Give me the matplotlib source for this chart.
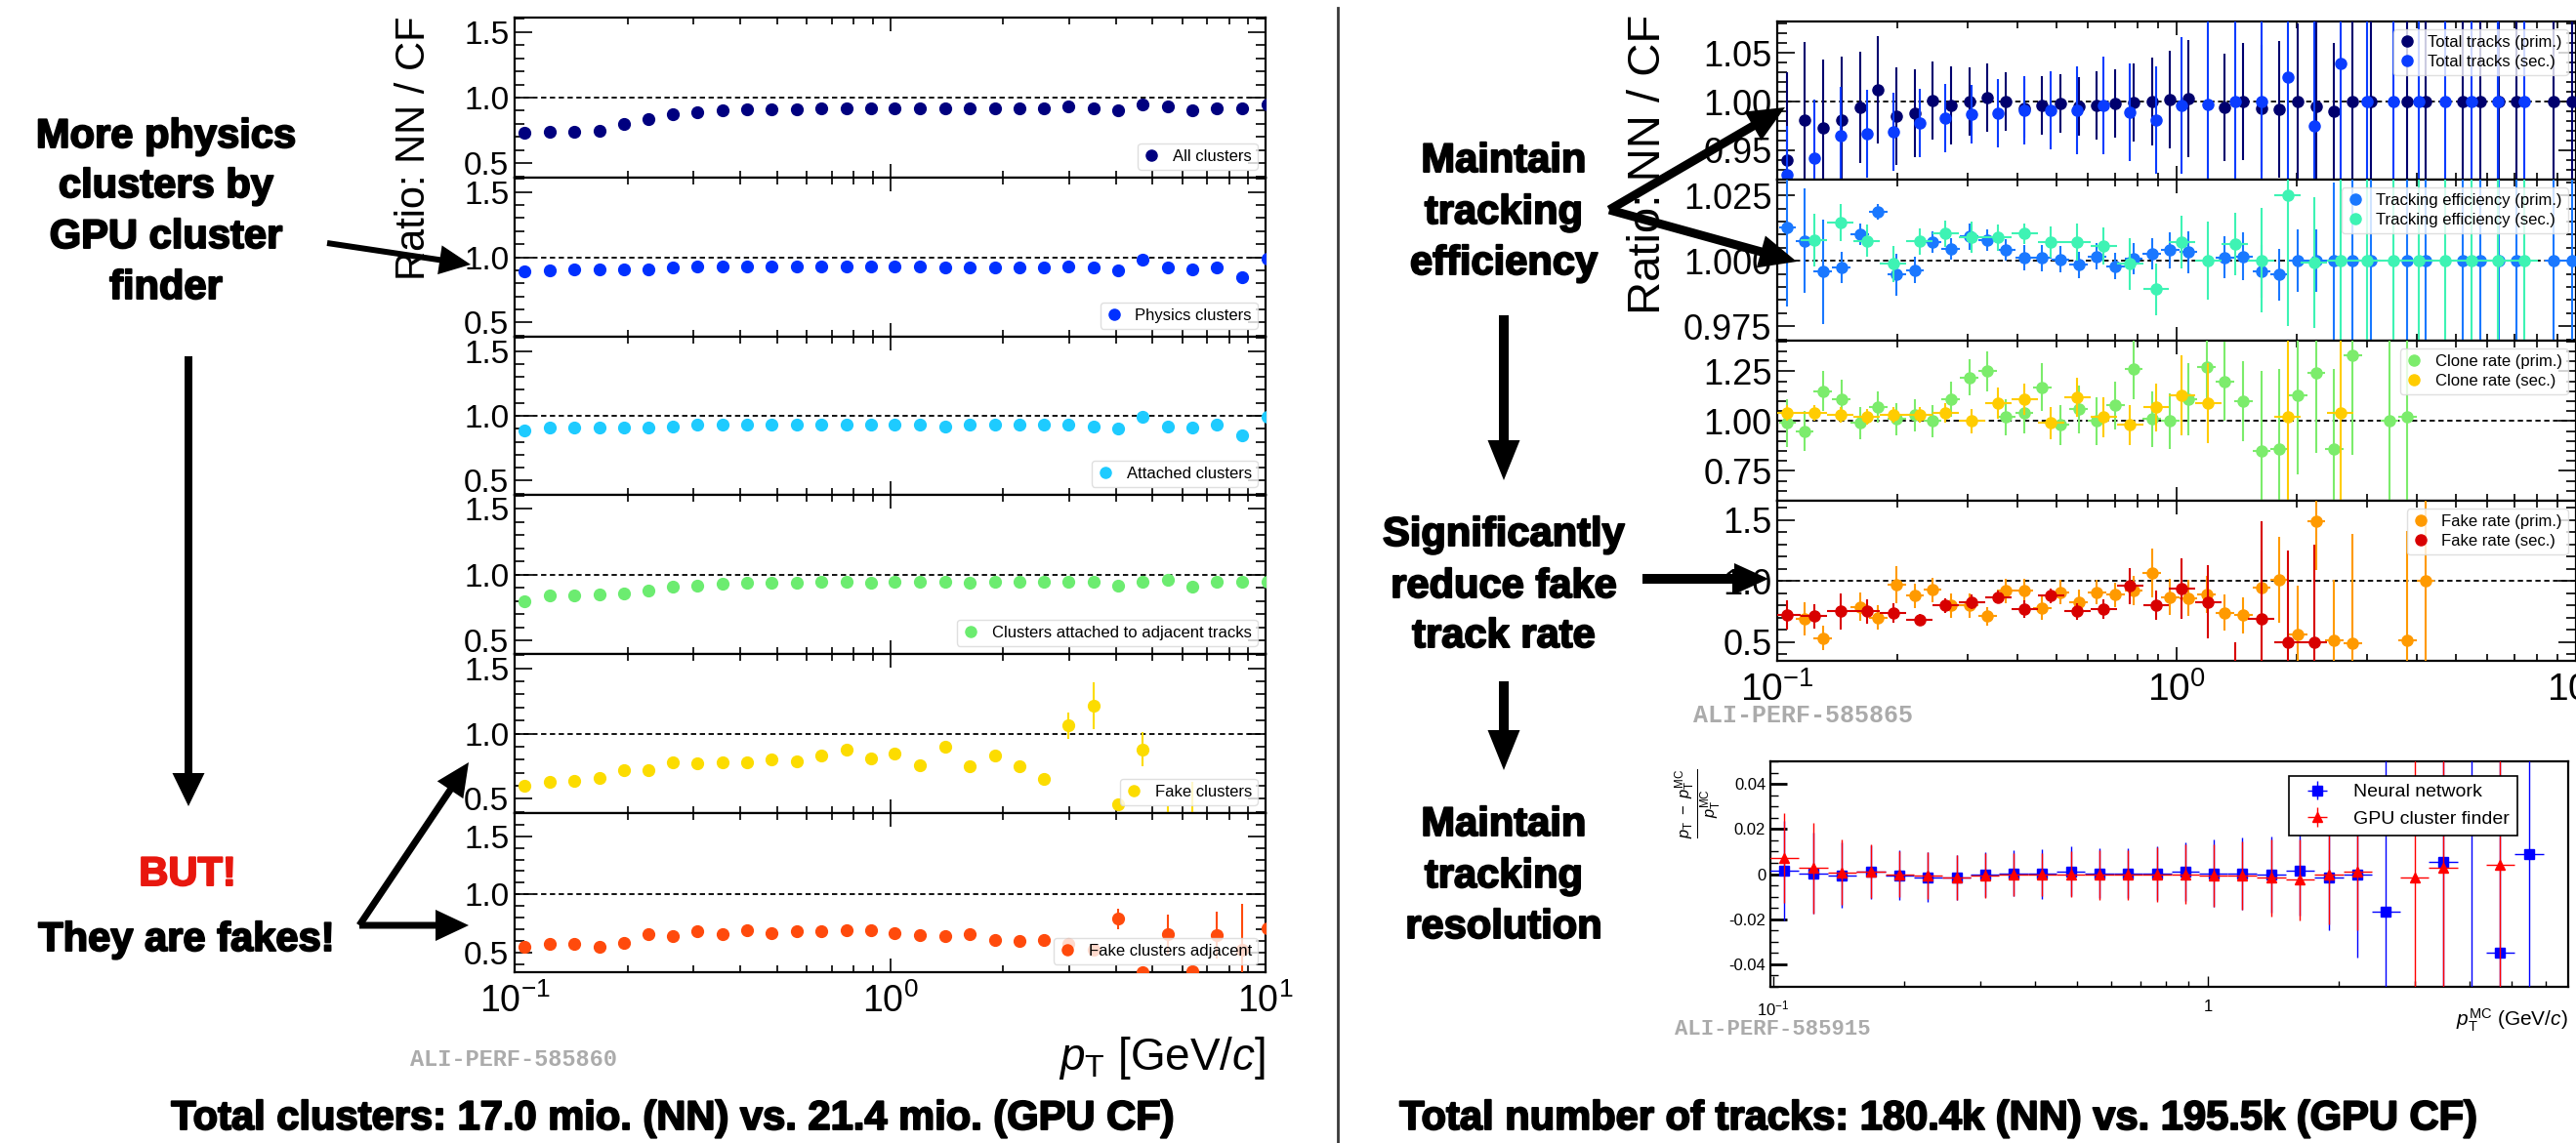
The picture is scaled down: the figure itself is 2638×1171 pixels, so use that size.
import numpy as np
import matplotlib
matplotlib.use('Agg')
import matplotlib.pyplot as plt
from matplotlib import font_manager
from matplotlib import patheffects
from matplotlib.lines import Line2D
from matplotlib.ticker import (MultipleLocator, FormatStrFormatter, NullFormatter,
                               FixedLocator, FixedFormatter)

nan = np.nan

# ------------------------------------------------------------
# Fonts: narrow sans for the ROOT plots, bold sans for the notes
# ------------------------------------------------------------
_names = {f.name for f in font_manager.fontManager.ttflist}
NARROW = 'Liberation Sans Narrow' if 'Liberation Sans Narrow' in _names else 'Liberation Sans'
plt.rcParams['font.family'] = [NARROW, 'DejaVu Sans']
plt.rcParams['mathtext.fontset'] = 'custom'
plt.rcParams['mathtext.rm'] = NARROW
plt.rcParams['mathtext.it'] = NARROW + ':italic'
plt.rcParams['mathtext.bf'] = NARROW + ':bold'
BOLD = ['Liberation Sans', 'DejaVu Sans']
HEAVY = [patheffects.withStroke(linewidth=1.4, foreground='k')]

# ------------------------------------------------------------
# Data
# ------------------------------------------------------------
# bin centres, 15 per decade (cluster ratios, secondary tracks, resolution)
pt_coarse = [0.106, 0.124, 0.144, 0.168, 0.195, 0.227, 0.264, 0.307, 0.357, 0.416,
             0.484, 0.564, 0.656, 0.764, 0.889, 1.03, 1.20, 1.40, 1.63, 1.90,
             2.21, 2.57, 2.99, 3.48, 4.05, 4.71, 5.49, 6.39, 7.43, 8.65, 10.1]
# bin centres, finer binning (primary tracks)
pt_fine = [0.106, 0.117, 0.130, 0.145, 0.161, 0.179, 0.199, 0.221, 0.245, 0.272,
           0.303, 0.336, 0.374, 0.415, 0.461, 0.512, 0.569, 0.632, 0.703, 0.780,
           0.867, 0.963, 1.07, 1.19, 1.32, 1.47, 1.63, 1.81, 2.01, 2.24,
           2.48, 2.76, 3.07, 3.41, 3.78, 4.20, 4.67, 5.19, 5.76, 6.40,
           7.11, 7.90, 8.78, 9.75]

# --- cluster ratios NN / CF (left) ---
all_clusters = [0.73, 0.74, 0.74, 0.75, 0.80, 0.84, 0.87, 0.89, 0.90, 0.91, 0.91, 0.91,
                0.92, 0.92, 0.92, 0.92, 0.92, 0.92, 0.92, 0.92, 0.92, 0.92, 0.93, 0.92,
                0.90, 0.95, 0.93, 0.90, 0.92, 0.92, 0.95]
all_err = [0.005] * 27 + [0.01, 0.02, 0.03, 0.02]
physics = [0.89, 0.90, 0.91, 0.91, 0.91, 0.91, 0.92, 0.93, 0.93, 0.93, 0.93, 0.93,
           0.93, 0.93, 0.93, 0.93, 0.93, 0.92, 0.92, 0.92, 0.92, 0.92, 0.93, 0.92,
           0.90, 0.98, 0.92, 0.91, 0.92, 0.85, 0.99]
physics_err = [0.005] * 27 + [0.01, 0.02, 0.04, 0.02]
attached = [0.89, 0.91, 0.91, 0.91, 0.91, 0.91, 0.92, 0.93, 0.93, 0.93, 0.93, 0.93,
            0.93, 0.93, 0.93, 0.93, 0.93, 0.92, 0.93, 0.93, 0.93, 0.93, 0.93, 0.92,
            0.90, 0.99, 0.92, 0.91, 0.93, 0.85, 0.99]
attached_err = [0.005] * 27 + [0.01, 0.02, 0.04, 0.02]
adjacent = [0.80, 0.84, 0.84, 0.85, 0.86, 0.88, 0.91, 0.92, 0.93, 0.94, 0.94, 0.94,
            0.95, 0.95, 0.94, 0.95, 0.95, 0.95, 0.94, 0.95, 0.95, 0.95, 0.95, 0.95,
            0.92, 0.95, 0.96, 0.91, 0.95, 0.95, 0.95]
adjacent_err = [0.005] * 27 + [0.01, 0.02, 0.03, 0.02]
fake = [0.60, 0.63, 0.64, 0.66, 0.72, 0.72, 0.78, 0.77, 0.78, 0.78, 0.80, 0.79,
        0.83, 0.88, 0.81, 0.85, 0.76, 0.90, 0.75, 0.83, 0.75, 0.65, 1.06, 1.21,
        0.46, 0.88, 0.30, 0.25, nan, nan, nan]
fake_err = [0.01] * 20 + [0.02, 0.03, 0.10, 0.18, 0.03, 0.13, 0.14, 0.38, nan, nan, nan]
fake_adj = [0.55, 0.57, 0.57, 0.55, 0.58, 0.66, 0.64, 0.68, 0.66, 0.69, 0.67, 0.68,
            0.68, 0.69, 0.69, 0.67, 0.65, 0.64, 0.66, 0.61, 0.60, 0.61, 0.57, 0.52,
            0.79, 0.33, 0.66, 0.34, 0.65, 0.52, 0.71]
fake_adj_err = [0.01] * 22 + [0.02, 0.04, 0.09, 0.05, 0.17, 0.05, 0.20, 0.40, 0.10]

# --- track ratios NN / CF (right) ---
tot_prim = [0.940, 0.981, 0.973, 0.981, 0.994, 1.012, 0.985, 0.988, 1.001, 0.996, 1.000,
            1.004, 1.000, 0.993, 0.996, 0.998, 0.995, 0.996, 0.998, 0.999, 1.000, 1.002,
            1.003, nan, 0.994, 1.000, 0.993, 0.992, 1.000, 0.995, 0.990, 1.000, 1.000,
            nan, 1.000, 1.000, nan, 1.000, 1.000, 1.000, 1.000, nan, 1.000, 1.000]
tot_prim_err = [0.09, 0.08, 0.07, 0.065, 0.057, 0.055, 0.05, 0.045, 0.04, 0.04, 0.035,
                0.035, 0.03, 0.03, 0.03, 0.03, 0.03, 0.035, 0.035, 0.04, 0.045, 0.05,
                0.06, nan, 0.055, 0.06, 0.065, 0.07, 0.08, 0.2, 0.07, 0.2, 0.2,
                nan, 0.2, 0.2, nan, 0.2, 0.2, 0.2, 0.2, nan, 0.2, 0.2]
tot_sec = [0.925, 0.942, 0.965, 0.967, 0.969, 0.978, 0.983, 0.987, 0.988, 0.991, 0.991,
           0.991, 0.996, 0.989, 0.981, 0.996, 0.997, 1.000, 1.000, 1.025, 0.975, 1.039,
           1.000, 1.000, 1.000, 1.000, 1.000, 1.000, 1.000, nan, nan]
tot_sec_err = [0.05, 0.06, 0.05, 0.045, 0.04, 0.035, 0.035, 0.03, 0.035, 0.035, 0.04,
               0.045, 0.05, 0.05, 0.055, 0.07] + [0.2] * 13 + [nan, nan]

eff_prim = [1.0126, 1.0077, 0.9959, 0.9975, 1.0101, 1.0186, 0.9947, 0.9965, 1.0071, 1.0046,
            1.0092, 1.0079, 1.0042, 1.0012, 1.0011, 1.0005, 0.9984, 1.0017, 0.9980, 1.0009,
            1.0027, 1.0040, 1.0033, nan, 1.0012, 1.0017, 0.9960, 0.9947, 1.0, 1.0, 1.0,
            1.0, 1.0, nan, 1.0, 1.0, nan, 1.0, 1.0, 1.0, 1.0, nan, 1.0, 1.0]
eff_prim_err = [0.03, 0.02, 0.02, 0.006, 0.004, 0.003, 0.008, 0.005, 0.004, 0.004, 0.005,
                0.004, 0.004, 0.005, 0.005, 0.005, 0.005, 0.005, 0.005, 0.006, 0.006, 0.007,
                0.008, nan, 0.008, 0.009, 0.01, 0.01, 0.012, 0.012, 0.03, 0.05, 0.05,
                nan, 0.05, 0.05, nan, 0.05, 0.05, 0.05, 0.05, nan, 0.05, 0.05]
eff_sec = [nan, 1.0079, 1.0145, 1.0077, 0.9988, 1.0074, 1.0104, 1.0089, 1.0089, 1.0104,
           1.0071, 1.0071, 1.0056, 0.9988, 0.9891, 1.0071, 1.0000, 1.0064, 1.0002, 1.0250,
           0.9993, 1.0, 1.0, 1.0, 1.0, 1.0, 1.0, 1.0, 1.0, nan, nan]
eff_sec_err = [nan, 0.01, 0.007, 0.006, 0.007, 0.005, 0.005, 0.006, 0.005, 0.004, 0.006,
               0.007, 0.007, 0.01, 0.01, 0.01, 0.015, 0.012, 0.02, 0.05, 0.025,
               0.05, 0.05, 0.05, 0.05, 0.05, 0.05, 0.05, 0.05, nan, nan]

clone_prim = [0.99, 0.95, 1.15, 1.11, 0.99, 1.07, 1.01, 1.03, 1.00, 1.11, 1.22, 1.25,
              1.02, 1.04, 1.17, 0.98, 1.06, 1.00, 1.08, 1.26, 1.01, 1.00, 1.11, 1.27,
              1.20, 1.10, 0.85, 0.86, 1.13, 1.24, 0.86, 1.33, nan, 1.00, 1.02,
              nan, nan, nan, nan, nan, nan, nan, nan, nan]
clone_prim_err = [0.12, 0.10, 0.10, 0.10, 0.08, 0.08, 0.08, 0.08, 0.08, 0.09, 0.09, 0.10,
                  0.09, 0.10, 0.12, 0.10, 0.12, 0.12, 0.12, 0.15, 0.14, 0.14, 0.18, 0.20,
                  0.20, 0.20, 0.40, 0.40, 0.40, 0.40, 0.40, 0.50, nan, 0.60, 0.60,
                  nan, nan, nan, nan, nan, nan, nan, nan, nan]
clone_sec = [1.04, 1.04, 1.03, 1.02, 1.03, 1.03, 1.04, 1.00, 1.09, 1.11, 0.99, 1.12,
             1.02, 0.98, 1.07, 1.13, 1.09, nan, nan, 1.02, nan, 1.04,
             nan, nan, nan, nan, nan, nan, nan, nan, nan]
clone_sec_err = [0.04, 0.04, 0.04, 0.04, 0.04, 0.04, 0.05, 0.06, 0.08, 0.08, 0.08, 0.10,
                 0.10, 0.10, 0.12, 0.20, 0.20, nan, nan, 0.50, nan, 0.50,
                 nan, nan, nan, nan, nan, nan, nan, nan, nan]

fake_prim = [nan, 0.69, 0.53, nan, 0.79, 0.70, 0.97, 0.88, 0.93, 0.80, 0.80, 0.71,
             0.92, 0.92, 0.78, 0.91, 0.83, 0.91, 0.89, 0.92, 1.07, 0.87, 0.86, 0.89,
             0.74, 0.72, 0.95, 1.01, 0.56, 1.49, 0.51, 0.49, nan, nan, 0.51, 1.00,
             nan, nan, nan, nan, nan, nan, nan, nan]
fake_prim_err = [nan, 0.14, 0.10, nan, 0.12, 0.10, 0.15, 0.10, 0.10, 0.10, 0.10, 0.08,
                 0.10, 0.10, 0.10, 0.10, 0.10, 0.10, 0.10, 0.12, 0.20, 0.15, 0.15, 0.15,
                 0.15, 0.15, 0.30, 0.35, 0.40, 0.40, 0.50, 0.90, nan, nan, 0.90, 0.80,
                 nan, nan, nan, nan, nan, nan, nan, nan]
fake_sec = [0.72, 0.71, 0.75, 0.75, 0.74, 0.68, 0.80, 0.83, 0.87, 0.77, 0.88, 0.75,
            0.77, 0.96, 0.80, 0.94, 0.83, 0.20, 0.69, 0.50, 0.50,
            nan, nan, nan, nan, nan, nan, nan, nan, nan, nan]
fake_sec_err = [0.12, 0.10, 0.15, 0.10, 0.08, 0.05, 0.06, 0.06, 0.05, 0.07, 0.06, 0.07,
                0.08, 0.15, 0.12, 0.25, 0.30, 0.30, 0.80, 0.75, 0.80,
                nan, nan, nan, nan, nan, nan, nan, nan, nan, nan]

# --- relative pT resolution (bottom right), first 27 coarse bins ---
res_nn = [0.0016, 0.0004, -0.0006, 0.0009, -0.0006, -0.0014, -0.0014, -0.0003, 0.0004,
          0.0001, 0.0012, 0.0004, 0.0004, 0.0004, 0.0009, 0.0004, 0.0004, -0.0003,
          0.0014, -0.0017, 0.0, -0.0165, nan, 0.0052, 0.023, -0.035, 0.0087]
res_nn_err = [0.022, 0.018, 0.0145, 0.012, 0.011, 0.011, 0.010, 0.010, 0.010, 0.011,
              0.011, 0.011, 0.011, 0.012, 0.013, 0.015, 0.016, 0.017, 0.020, 0.023,
              0.037, 0.1, nan, 0.1, 0.1, 0.1, 0.1]
res_cf = [0.0072, 0.0026, 0.0007, 0.0012, 0.0, -0.0006, -0.0014, -0.0006, -0.0003,
          -0.0003, 0.0, -0.0003, -0.0003, -0.0003, 0.0, -0.0006, -0.0006, -0.0017,
          -0.0025, -0.0003, 0.0009, nan, -0.0017, 0.0029, nan, 0.0040, nan]
res_cf_err = [0.020, 0.020, 0.0145, 0.012, 0.010, 0.0105, 0.010, 0.010, 0.0095, 0.0095,
              0.010, 0.011, 0.011, 0.012, 0.013, 0.014, 0.015, 0.017, 0.018, 0.022,
              0.026, nan, 0.1, 0.1, nan, 0.1, nan]
res_yticks = [-0.04, -0.02, 0.0, 0.02, 0.04]
res_yticklabels = ['-0.04', '-0.02', '0', '0.02', '0.04']

# ------------------------------------------------------------
# Figure helpers (layout in pixels of the 2638x1171 slide)
# ------------------------------------------------------------
W, H = 2638, 1171
fig = plt.figure(figsize=(W / 100, H / 100), dpi=100)


def px_axes(x0, y0, x1, y1, **kw):
    return fig.add_axes([x0 / W, 1 - y1 / H, (x1 - x0) / W, (y1 - y0) / H], **kw)


def half_widths(centres):
    # horizontal error = half bin width, bins touching in log space
    lc = np.log10(centres)
    mids = (lc[1:] + lc[:-1]) / 2
    edges = np.concatenate([[2 * lc[0] - mids[0]], mids, [2 * lc[-1] - mids[-1]]])
    c = np.asarray(centres)
    return np.vstack([c - 10 ** edges[:-1], 10 ** edges[1:] - c])


def ratio_axes(box, ylim, major, minor, fmt, show_x, ysize, xsize):
    ax = px_axes(*box)
    ax.set_xscale('log')
    ax.set_xlim(0.1, 10)
    ax.set_ylim(*ylim)
    ax.yaxis.set_major_locator(MultipleLocator(major))
    ax.yaxis.set_minor_locator(MultipleLocator(minor))
    ax.yaxis.set_major_formatter(FormatStrFormatter(fmt))
    ax.xaxis.set_minor_formatter(NullFormatter())
    ax.axhline(1.0, color='k', lw=1.3, ls=(0, (3, 2)), zorder=2)
    ax.tick_params(which='both', direction='in', top=True, right=True, width=1.2,
                   labelsize=ysize, pad=4)
    ax.tick_params(axis='y', which='major', length=13)
    ax.tick_params(axis='y', which='minor', length=7)
    ax.tick_params(axis='x', which='major', length=10, labelsize=xsize,
                   labelbottom=show_x, pad=8)
    ax.tick_params(axis='x', which='minor', length=5)
    for s in ax.spines.values():
        s.set_linewidth(1.6)
    return ax


def marker_legend(ax, entries, loc):
    handles = [Line2D([], [], ls='', marker='o', ms=8, color=c) for _, c in entries]
    leg = ax.legend(handles, [t for t, _ in entries], loc=loc, fontsize=12,
                    handlelength=1.0, handletextpad=0.8, borderpad=0.35,
                    labelspacing=0.3, borderaxespad=0.5, framealpha=0.8,
                    edgecolor='#d8d8d8')
    leg.get_frame().set_linewidth(1.0)


# ------------------------------------------------------------
# Left: cluster ratios, six stacked pads
# ------------------------------------------------------------
left_edges = [18, 182, 345, 507, 670, 833, 996]
left_series = [
    ('All clusters', all_clusters, all_err, '#00007f', (0.39, 1.61)),
    ('Physics clusters', physics, physics_err, '#0030ff', (0.39, 1.61)),
    ('Attached clusters', attached, attached_err, '#1ecbff', (0.39, 1.61)),
    ('Clusters attached to adjacent tracks', adjacent, adjacent_err, '#6cec70', (0.40, 1.605)),
    ('Fake clusters', fake, fake_err, '#fcdc00', (0.39, 1.61)),
    ('Fake clusters adjacent', fake_adj, fake_adj_err, '#ff4a0c', (0.33, 1.70)),
]
for j, (label, vals, errs, color, ylim) in enumerate(left_series):
    ax = ratio_axes((527, left_edges[j], 1296, left_edges[j + 1]), ylim, 0.5, 0.1,
                    '%.1f', j == len(left_series) - 1, 24, 27)
    ax.errorbar(pt_coarse, vals, yerr=errs, fmt='o', ms=8.5, color=color,
                elinewidth=1.5, capsize=0, zorder=3)
    marker_legend(ax, [(label, color)], 'lower right')

# ------------------------------------------------------------
# Right: track ratios, four stacked pads
# ------------------------------------------------------------
fine_hw = half_widths(pt_fine)
coarse_hw = half_widths(pt_coarse)
right_edges = [22, 184, 349, 513, 677]
right_series = [
    ('Total tracks', tot_prim, tot_prim_err, '#00006e', tot_sec, tot_sec_err, '#0a3cff',
     (0.92, 1.082), 0.05, 0.01, '%.2f', False),
    ('Tracking efficiency', eff_prim, eff_prim_err, '#1a78ff', eff_sec, eff_sec_err, '#3ef3b4',
     (0.9695, 1.031), 0.025, 0.005, '%.3f', True),
    ('Clone rate', clone_prim, clone_prim_err, '#7cec6c', clone_sec, clone_sec_err, '#ffcc00',
     (0.60, 1.404), 0.25, 0.05, '%.2f', True),
    ('Fake rate', fake_prim, fake_prim_err, '#ff9a00', fake_sec, fake_sec_err, '#d80000',
     (0.345, 1.66), 0.5, 0.1, '%.1f', True),
]
for j, (name, pv, pe, pc, sv, se, sc, ylim, major, minor, fmt, with_xerr) in enumerate(right_series):
    ax = ratio_axes((1820, right_edges[j], 2638, right_edges[j + 1]), ylim, major, minor,
                    fmt, j == len(right_series) - 1, 26, 28)
    ax.errorbar(pt_fine, pv, yerr=pe, xerr=fine_hw if with_xerr else None, fmt='o', ms=8,
                color=pc, elinewidth=1.5, capsize=0, zorder=3)
    ax.errorbar(pt_coarse, sv, yerr=se, xerr=coarse_hw if with_xerr else None, fmt='o', ms=8,
                color=sc, elinewidth=1.5, capsize=0, zorder=4)
    marker_legend(ax, [(name + ' (prim.)', pc), (name + ' (sec.)', sc)], 'upper right')

# ------------------------------------------------------------
# Bottom right: relative pT resolution
# ------------------------------------------------------------
ax = px_axes(1813, 780, 2630, 1011)
n = len(res_nn)
ax.errorbar(pt_coarse[:n], res_nn, yerr=res_nn_err, xerr=coarse_hw[:, :n], fmt='s', ms=6.5,
            color='#0000ff', elinewidth=1.0, capsize=0, label='Neural network', zorder=3)
ax.errorbar(pt_coarse[:n], res_cf, yerr=res_cf_err, xerr=coarse_hw[:, :n], fmt='^', ms=6.5,
            color='#ff0000', elinewidth=1.0, capsize=0, label='GPU cluster finder', zorder=4)
ax.set_xscale('log')
ax.set_xlim(0.0985, 6.75)
ax.set_ylim(-0.05, 0.05)
ax.xaxis.set_major_locator(FixedLocator([0.1, 1]))
ax.xaxis.set_major_formatter(FixedFormatter([r'$10^{-1}$', '1']))
ax.xaxis.set_minor_formatter(NullFormatter())
ax.yaxis.set_major_locator(FixedLocator(res_yticks))
ax.yaxis.set_major_formatter(FixedFormatter(res_yticklabels))
ax.yaxis.set_minor_locator(MultipleLocator(0.005))
ax.tick_params(which='both', direction='in', labelsize=12, width=1.0)
ax.tick_params(axis='y', which='major', length=12, width=2.0)
ax.tick_params(axis='y', which='minor', length=6)
ax.tick_params(axis='x', which='major', length=8, pad=9)
ax.tick_params(axis='x', which='minor', length=4)
for s in ax.spines.values():
    s.set_linewidth(1.6)
leg = ax.legend(loc='upper right', bbox_to_anchor=(0.936, 0.935), borderaxespad=0,
                fontsize=14, fancybox=False, edgecolor='k', framealpha=1,
                handlelength=2.2, borderpad=0.4, labelspacing=0.5)
leg.get_frame().set_linewidth(1.2)

# ------------------------------------------------------------
# Overlay: labels, notes, arrows (pixel coordinates, y down)
# ------------------------------------------------------------
ov = fig.add_axes([0, 0, 1, 1], zorder=10)
ov.set_xlim(0, W)
ov.set_ylim(H, 0)
ov.axis('off')
ov.patch.set_alpha(0)

ov.plot([1370, 1370], [8, H], color='#3a3a3a', lw=2)

ov.text(424, 152, 'Ratio: NN / CF', rotation=90, ha='center', va='center', fontsize=30)
ov.text(1688, 168, 'Ratio: NN / CF', rotation=90, ha='center', va='center', fontsize=34)
ov.text(1296, 1084, r'$p_{\rm T}$ [GeV/$c$]', ha='right', va='center', fontsize=33)
ov.text(1739, 823, r'$\frac{p_{\rm T}\ -\ p_{\rm T}^{\rm MC}}{p_{\rm T}^{\rm MC}}$', rotation=90,
        ha='center', va='center', fontsize=17)
ov.text(2630, 1045, r'$p_{\rm T}^{\rm MC}$ (GeV/$c$)', ha='right', va='center', fontsize=15)

for x, y, s, size in [(526, 1085, 'ALI-PERF-585860', 17), (1846, 733, 'ALI-PERF-585865', 18),
                      (1815, 1055, 'ALI-PERF-585915', 16)]:
    ov.text(x, y, s, ha='center', va='center', fontsize=size, color='#ababab',
            family=['Liberation Mono', 'DejaVu Sans Mono'], weight='bold')

notes = [
    (170, [140, 191, 243, 295], ['More physics', 'clusters by', 'GPU cluster', 'finder'], 'k'),
    (192, [896], ['BUT!'], '#e8170e'),
    (191, [963], ['They are fakes!'], 'k'),
    (1540, [165, 218, 270], ['Maintain', 'tracking', 'efficiency'], 'k'),
    (1540, [548, 601, 652], ['Significantly', 'reduce fake', 'track rate'], 'k'),
    (1540, [845, 898, 950], ['Maintain', 'tracking', 'resolution'], 'k'),
]
for x, ys, lines, color in notes:
    for y, s in zip(ys, lines):
        ov.text(x, y, s, ha='center', va='center', fontsize=30, weight='bold',
                family=BOLD, color=color,
                path_effects=[patheffects.withStroke(linewidth=1.4, foreground=color)])

ov.text(689, 1146, 'Total clusters: 17.0 mio. (NN) vs. 21.4 mio. (GPU CF)', ha='center',
        va='center', fontsize=30, weight='bold', family=BOLD, path_effects=HEAVY)
ov.text(1985, 1146, 'Total number of tracks: 180.4k (NN) vs. 195.5k (GPU CF)', ha='center',
        va='center', fontsize=30, weight='bold', family=BOLD, path_effects=HEAVY)


def arrow(x0, y0, x1, y1, w, hw, hl):
    ov.arrow(x0, y0, x1 - x0, y1 - y0, width=w, head_width=hw, head_length=hl,
             length_includes_head=True, color='k', lw=0)


arrow(335, 249, 482, 271, 6, 30, 32)
arrow(193, 365, 193, 826, 8, 33, 34)
arrow(368, 948, 480, 781, 7, 32, 34)
arrow(368, 948, 480, 948, 7, 32, 34)
arrow(1648, 215, 1828, 110, 9, 34, 38)
arrow(1648, 215, 1840, 268, 9, 34, 38)
arrow(1540, 323, 1540, 492, 10, 33, 41)
arrow(1682, 593, 1811, 593, 10, 32, 35)
arrow(1540, 698, 1540, 789, 10, 33, 41)

fig.savefig('out.png', dpi=100)
